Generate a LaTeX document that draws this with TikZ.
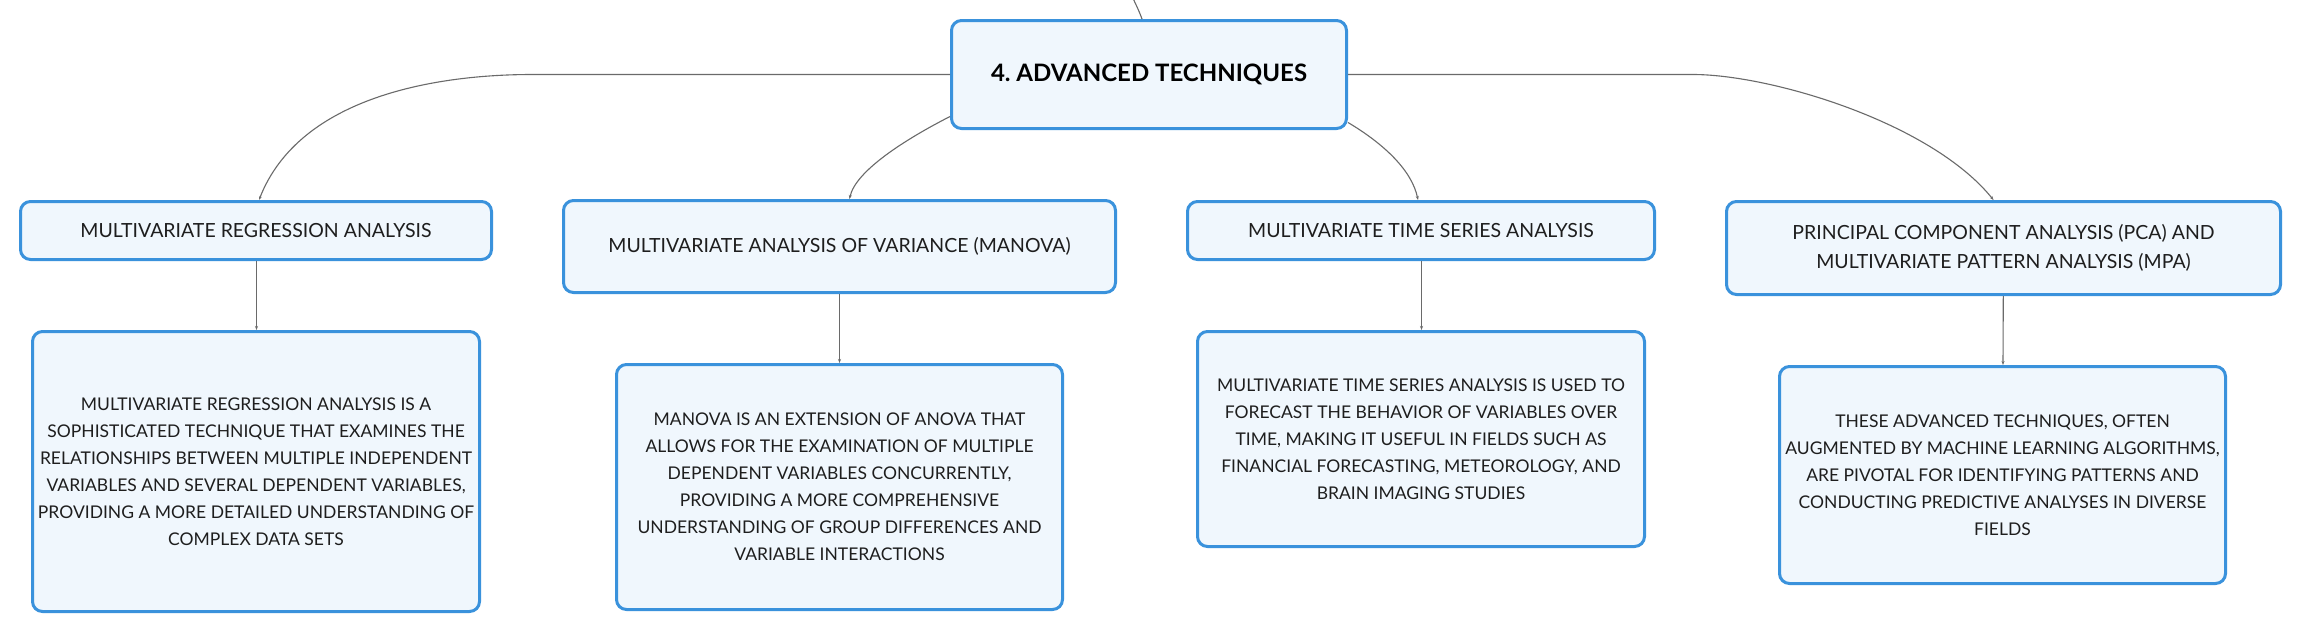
\documentclass[tikz,border=0pt]{standalone}
\usepackage{fontspec}
\setmainfont{Lato}
\frenchspacing
\usetikzlibrary{arrows.meta,calc}
\definecolor{BoxClr}{HTML}{3A92DC}
\definecolor{FillClr}{HTML}{F0F7FD}
\definecolor{LinkClr}{HTML}{6A6A6A}
\definecolor{TextClr}{HTML}{1E1E1E}

\begin{document}
\begin{tikzpicture}[x=1pt,y=-1pt,
  box/.style={draw=BoxClr,fill=FillClr,line width=3pt,rounded corners=10pt,
    inner sep=0pt,align=center,text=TextClr},
  rootbox/.style={box,font=\fontsize{24}{30}\selectfont\bfseries,text=black},
  topic/.style={box,font=\fontsize{19.5}{29.5}\selectfont},
  info/.style={box,font=\fontsize{17.5}{27}\selectfont},
  link/.style={LinkClr,line width=1.1pt,-{Stealth[length=4pt,width=3pt]}}]

\path[use as bounding box,fill=white] (0,0) rectangle (2300,638);

% central topic
\node[rootbox,minimum width=395,minimum height=108] (R) at (1149,74.5) {4. ADVANCED TECHNIQUES};
\coordinate (up) at (1130,-8);

% branches
\node[topic,minimum width=471,minimum height=58] (M1) at (256,230.5) {MULTIVARIATE REGRESSION ANALYSIS};
\node[topic,minimum width=552,minimum height=92] (M2) at (839.5,246.5) {MULTIVARIATE ANALYSIS OF VARIANCE (MANOVA)};
\node[topic,minimum width=467,minimum height=58] (M3) at (1421,230.5) {MULTIVARIATE TIME SERIES ANALYSIS};
\node[topic,minimum width=554,minimum height=93] (M4) at (2003.5,248) {PRINCIPAL COMPONENT ANALYSIS (PCA) AND\\MULTIVARIATE PATTERN ANALYSIS (MPA)};

% descriptions
\node[info,minimum width=447,minimum height=280] (D1) at (256,471.5) {MULTIVARIATE REGRESSION ANALYSIS IS A\\SOPHISTICATED TECHNIQUE THAT EXAMINES THE\\RELATIONSHIPS BETWEEN MULTIPLE INDEPENDENT\\VARIABLES AND SEVERAL DEPENDENT VARIABLES,\\PROVIDING A MORE DETAILED UNDERSTANDING OF\\COMPLEX DATA SETS};
\node[info,minimum width=446,minimum height=245] (D2) at (839.5,487) {MANOVA IS AN EXTENSION OF ANOVA THAT\\ALLOWS FOR THE EXAMINATION OF MULTIPLE\\DEPENDENT VARIABLES CONCURRENTLY,\\PROVIDING A MORE COMPREHENSIVE\\UNDERSTANDING OF GROUP DIFFERENCES AND\\VARIABLE INTERACTIONS};
\node[info,minimum width=447,minimum height=215] (D3) at (1421,439) {MULTIVARIATE TIME SERIES ANALYSIS IS USED TO\\FORECAST THE BEHAVIOR OF VARIABLES OVER\\TIME, MAKING IT USEFUL IN FIELDS SUCH AS\\FINANCIAL FORECASTING, METEOROLOGY, AND\\BRAIN IMAGING STUDIES};
\node[info,minimum width=446,minimum height=217] (D4) at (2002.5,475) {THESE ADVANCED TECHNIQUES, OFTEN\\AUGMENTED BY MACHINE LEARNING ALGORITHMS,\\ARE PIVOTAL FOR IDENTIFYING PATTERNS AND\\CONDUCTING PREDICTIVE ANALYSES IN DIVERSE\\FIELDS};

% links
\draw[LinkClr,line width=1.1pt] ([xshift=-7pt]R.north) .. controls +(-3,-8) .. (up);
\draw[link] (R.west) -- ++(-418,0) .. controls +(-92,0) and +(41,-105) .. ([xshift=3pt]M1.north);
\draw[link] ([yshift=-42pt]R.west) .. controls +(-45,23) and +(6,-28) .. ([xshift=10pt]M2.north);
\draw[link] ([yshift=-48pt]R.east) .. controls +(37,22) and +(-6,-29) .. ([xshift=-3pt]M3.north);
\draw[link] (R.east) -- ++(345,0) .. controls +(77,0) and +(-63,-78) .. ([xshift=-10pt]M4.north);

\draw[link] ([xshift=0.5pt]M1.south) -- ([xshift=0.5pt]D1.north);
\draw[link] (M2) -- (D2);
\draw[link] ([xshift=0.5pt]M3.south) -- ([xshift=0.5pt]D3.north);
\draw[link] (M4) -- (D4);

\end{tikzpicture}
\end{document}
